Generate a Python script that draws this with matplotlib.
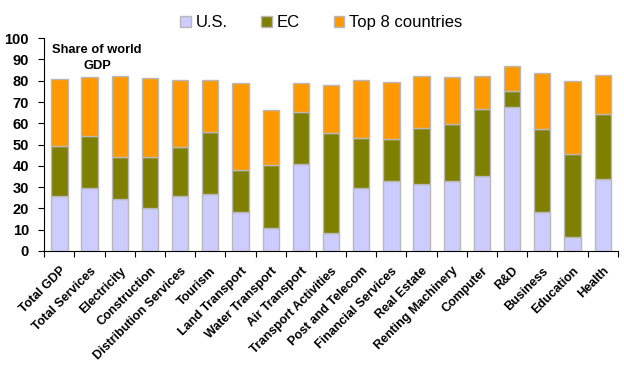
import numpy as np
import matplotlib.pyplot as plt

plt.rcParams['font.family'] = ['Liberation Sans', 'DejaVu Sans']

# categories and shares of world output (%)
sectors = ["Total GDP", "Total Services", "Electricity", "Construction",
           "Distribution Services", "Tourism", "Land Transport", "Water Transport",
           "Air Transport", "Transport Activities", "Post and Telecom",
           "Financial Services", "Real Estate", "Renting Machinery", "Computer",
           "R&D", "Business", "Education", "Health"]

us = [26, 29.5, 24.6, 20.4, 26, 27, 18.4, 11, 40.7, 8.6, 29.7, 33.1, 31.4,
      33.1, 35.2, 67.8, 18.5, 6.8, 33.6]
ec = [23.5, 24.7, 19.8, 23.9, 22.8, 29, 19.7, 29.2, 24.8, 47, 23.2, 19.3, 26.2,
      26.7, 31.4, 7.4, 38.6, 38.7, 30.8]
top8 = [31.2, 27.4, 37.6, 36.9, 31.6, 24.5, 40.7, 25.9, 13.3, 22.6, 27.6, 27.2,
        24.5, 22.1, 15.8, 11.9, 26.7, 34.5, 18.5]

fig = plt.figure(figsize=(6.24, 3.82), dpi=100)
ax = fig.add_axes([0.071, 0.343, 0.919, 0.557])

x = np.arange(len(sectors))
w = 0.54
edge = dict(edgecolor="#b8b8b8", linewidth=1.0)
ax.bar(x, us, w, color="#ccccff", label="U.S.", **edge)
ax.bar(x, ec, w, bottom=us, color="#808000", label="EC", **edge)
ax.bar(x, top8, w, bottom=np.add(us, ec), color="#ff9900",
       label="Top 8 countries", **edge)

ax.set_xlim(-0.5, len(sectors) - 0.5)
ax.set_ylim(0, 100)
ax.set_yticks(range(0, 101, 10))
ax.tick_params(axis="y", labelsize=10.5, direction="out", length=4, pad=7)
for lab in ax.get_yticklabels():
    lab.set_fontweight("bold")

# ticks between categories, labels at centres
ax.set_xticks(np.arange(len(sectors) + 1) - 0.5)
ax.set_xticklabels([])
ax.set_xticks(x, minor=True)
ax.set_xticklabels(sectors, minor=True, rotation=45, ha="right",
                   rotation_mode="anchor", fontsize=9, fontweight="bold")
ax.tick_params(axis="x", which="major", direction="out", length=4)
ax.tick_params(axis="x", which="minor", length=0, pad=10)

for s in ["top", "right"]:
    ax.spines[s].set_visible(False)

ax.text(0.092, 0.975, "Share of world\nGDP", transform=ax.transAxes, ha="center",
        va="top", fontsize=9.3, fontweight="bold", linespacing=1.5)

fig.legend(loc="upper center", bbox_to_anchor=(0.515, 1.0), ncol=3, frameon=False,
           fontsize=12, handlelength=0.65, handleheight=0.65, handletextpad=0.3,
           columnspacing=2.0)

plt.savefig("out.png", dpi=100)
